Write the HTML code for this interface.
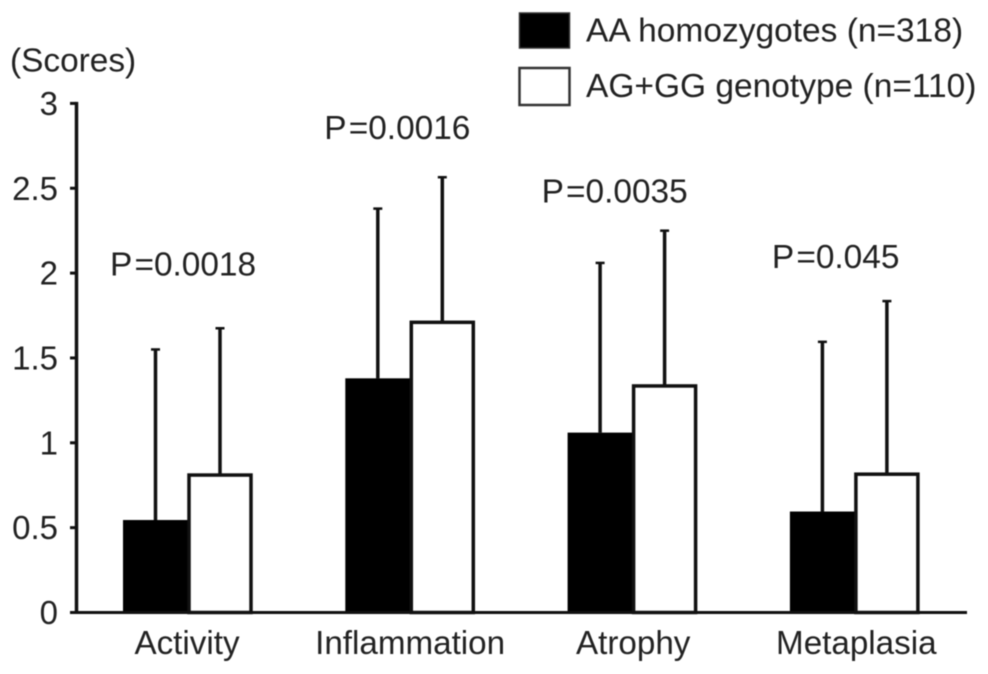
<!DOCTYPE html>
<html>
<head>
<meta charset="utf-8">
<style>
html,body{margin:0;padding:0;background:#fff;width:988px;height:674px;overflow:hidden}
svg{display:block;filter:blur(0.5px)}
text{font-family:"Liberation Sans",sans-serif;fill:#222}
</style>
</head>
<body>
<svg id="chart" width="988" height="674" viewBox="0 0 988 674" xmlns="http://www.w3.org/2000/svg">
<rect width="988" height="674" fill="#fff"/>
<text x="10" y="71.5" font-size="33.4">(Scores)</text>
<rect x="519.5" y="13" width="50" height="35" fill="#000" stroke="#333" stroke-width="1.5"/>
<text x="586" y="41.5" font-size="33.5">AA homozygotes (n=318)</text>
<rect x="519.5" y="68" width="50" height="37" fill="#fff" stroke="#333" stroke-width="2.5"/>
<text x="586" y="97" font-size="33.5">AG+GG genotype (n=110)</text>
<g id="plot"></g>
</svg>
<script>
const categories = ['Activity', 'Inflammation', 'Atrophy', 'Metaplasia'];
const aaMeans = [0.545, 1.38, 1.06, 0.595];
const aaUpper = [1.55, 2.38, 2.06, 1.595];
const agMeans = [0.81, 1.71, 1.335, 0.815];
const agUpper = [1.675, 2.565, 2.25, 1.835];
const pLabels = ['P =0.0018', 'P =0.0016', 'P =0.0035', 'P =0.045'];
const pHeights = [1.985, 2.79, 2.415, 2.03];
const yTicks = [0, 0.5, 1, 1.5, 2, 2.5, 3];

const NS = 'http://www.w3.org/2000/svg';
const plot = document.getElementById('plot');
const y = v => 612.5 - v * 169.7;
const groupX = i => 123 + i * 222.3;
const categoryCenter = i => 187 + i * 223.1;
const BAR_W = 65;

function make(tag, attrs, parent) {
  const el = document.createElementNS(NS, tag);
  for (const k in attrs) el.setAttribute(k, attrs[k]);
  (parent || plot).appendChild(el);
  return el;
}
function errorBar(x, mean, upper) {
  const stem = make('line', {x1: x, x2: x, y1: y(mean), y2: y(upper), stroke: '#111', 'stroke-width': 3.5});
  
  
  const cap = make('line', {x1: x - 4.5, x2: x + 4.5, y1: y(upper), y2: y(upper), stroke: '#111', 'stroke-width': 2.5});
  
  
}

categories.forEach((c, i) => {
  const gx = groupX(i);
  errorBar(gx + 32.5, aaMeans[i], aaUpper[i]);
  errorBar(gx + 97, agMeans[i], agUpper[i]);

  const black = make('rect', {x: gx, y: y(aaMeans[i]), width: BAR_W, height: y(0) - y(aaMeans[i]), fill: '#000'});
  
  

  const white = make('rect', {x: gx + BAR_W + 1, y: y(agMeans[i]), width: BAR_W - 3, height: y(0) - y(agMeans[i]), fill: '#fff', stroke: '#111', 'stroke-width': 3.5});
  
  

  const label = make('text', {x: categoryCenter(i), y: 654, 'font-size': 33.2, 'text-anchor': 'middle'});
  label.textContent = c;
  
  

  const p = make('text', {x: gx + [-13, -21, -26, -18][i], y: y(pHeights[i]), 'font-size': 33.4, 'word-spacing': '-6.5'});
  p.textContent = pLabels[i];
  
  
});

const yAxis = make('line', {x1: 76.5, x2: 76.5, y1: y(3) - 1.5, y2: y(0) + 1.5, stroke: '#111', 'stroke-width': 3.5});


const xAxis = make('line', {x1: 70, x2: 967, y1: y(0), y2: y(0), stroke: '#111', 'stroke-width': 3});



yTicks.forEach(t => {
  const tick = make('line', {x1: 70, x2: 76, y1: y(t), y2: y(t), stroke: '#111', 'stroke-width': 3});
  
  
  const lab = make('text', {x: 58, y: y(t) + 11.5, 'font-size': 33, 'text-anchor': 'end'});
  lab.textContent = String(t);
  
  
});
</script>
</body>
</html>
